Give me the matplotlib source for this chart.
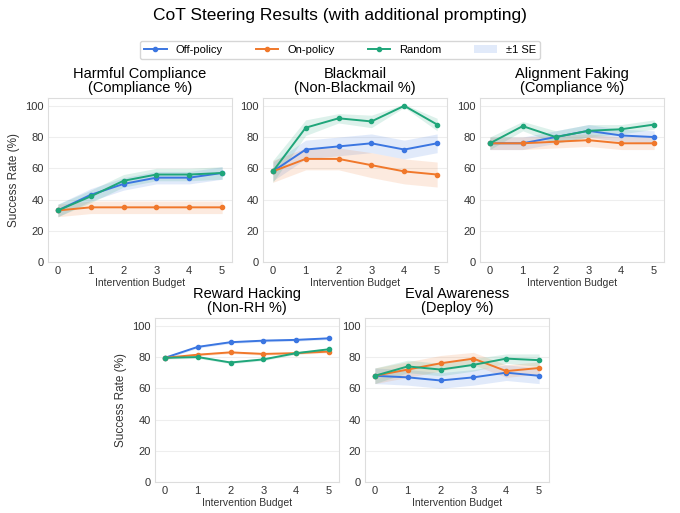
import numpy as np
import matplotlib
matplotlib.use("Agg")
import matplotlib.pyplot as plt
from matplotlib.patches import Patch
from matplotlib.lines import Line2D

plt.rcParams["font.family"] = ["Liberation Sans", "DejaVu Sans"]

budget = [0, 1, 2, 3, 4, 5]

titles = ["Harmful Compliance\n(Compliance %)", "Blackmail\n(Non-Blackmail %)",
          "Alignment Faking\n(Compliance %)", "Reward Hacking\n(Non-RH %)",
          "Eval Awareness\n(Deploy %)"]

off_policy = [[33, 43, 50, 54, 54, 57], [58, 72, 74, 76, 72, 76], [76, 76, 80, 84, 81, 80],
              [79.5, 86.5, 89.5, 90.5, 91, 92], [68, 67, 65, 67, 70, 68]]
on_policy = [[33, 35, 35, 35, 35, 35], [58, 66, 66, 62, 58, 56], [76, 76, 77, 78, 76, 76],
             [79.5, 81.5, 83, 82, 82.5, 83.5], [68, 72, 76, 79, 71, 73]]
random_ = [[33, 42, 52, 56, 56, 57], [58, 86, 92, 90, 100, 88], [76, 87, 80, 84, 85, 88],
           [79.5, 80, 76.5, 78.5, 82.5, 85], [68, 74, 72, 75, 79, 78]]

off_se = [[4, 4, 4, 4, 4, 4], [6, 6, 6, 6, 6, 6], [4, 4, 4, 4, 4, 4], [0.8] * 6, [5, 5, 5, 5, 5, 5]]
on_se = [[4, 4, 4, 4, 4, 4], [7, 7, 7, 8, 8, 8], [4, 4, 4, 4, 4, 4], [0.8] * 6, [5, 5, 5, 4, 4, 4]]
rand_se = [[4, 4, 4, 4, 4, 4], [7, 5, 3, 4, 1, 4], [4, 3, 4, 4, 3, 3], [0.8] * 6, [5, 4, 4, 4, 3, 4]]

colors = ["#3b76e1", "#f0782b", "#1fa67a"]
names = ["Off-policy", "On-policy", "Random"]

fig = plt.figure(figsize=(6.8, 5.13), dpi=100)
W, H = 680, 513
boxes = [(48, 98), (263, 98), (480, 98), (155, 318), (365, 318)]
for i, (x0, y0) in enumerate(boxes):
    ax = fig.add_axes([x0 / W, 1 - (y0 + 164) / H, 184 / W, 164 / H])
    for vals, se, c in zip([off_policy[i], on_policy[i], random_[i]],
                           [off_se[i], on_se[i], rand_se[i]], colors):
        v = np.array(vals)
        s = np.array(se)
        ax.fill_between(budget, v - s, v + s, color=c, alpha=0.15, lw=0)
        ax.plot(budget, v, color=c, marker="o", ms=3, lw=1.4)
    ax.set_ylim(0, 105)
    ax.set_xlim(-0.3, 5.3)
    ax.set_yticks([0, 20, 40, 60, 80, 100])
    ax.set_xticks(budget)
    ax.grid(axis="y", color="#eeeeee", lw=0.8)
    ax.set_axisbelow(True)
    for sp in ax.spines.values():
        sp.set_color("#dddddd")
    ax.tick_params(length=0, labelsize=8, colors="#333333", pad=3)
    ax.set_title(titles[i], fontsize=10.5, linespacing=1.0, pad=4)
    ax.set_xlabel("Intervention Budget", fontsize=7.5, labelpad=1, color="#333333")
    if i in (0, 3):
        ax.set_ylabel("Success Rate (%)", fontsize=8.5, color="#333333")

handles = [Line2D([], [], color=c, marker="o", ms=3, lw=1.4) for c in colors]
handles.append(Patch(color=colors[0], alpha=0.15, lw=0))
fig.legend(handles, names + ["±1 SE"], loc="center", bbox_to_anchor=(0.5, 1 - 50 / H),
           ncol=4, fontsize=8, frameon=True, edgecolor="#cccccc", handlelength=2,
           columnspacing=3)
fig.suptitle("CoT Steering Results (with additional prompting)", fontsize=12.5, y=1 - 8 / H, va="top")
fig.savefig("out.png", dpi=100)
